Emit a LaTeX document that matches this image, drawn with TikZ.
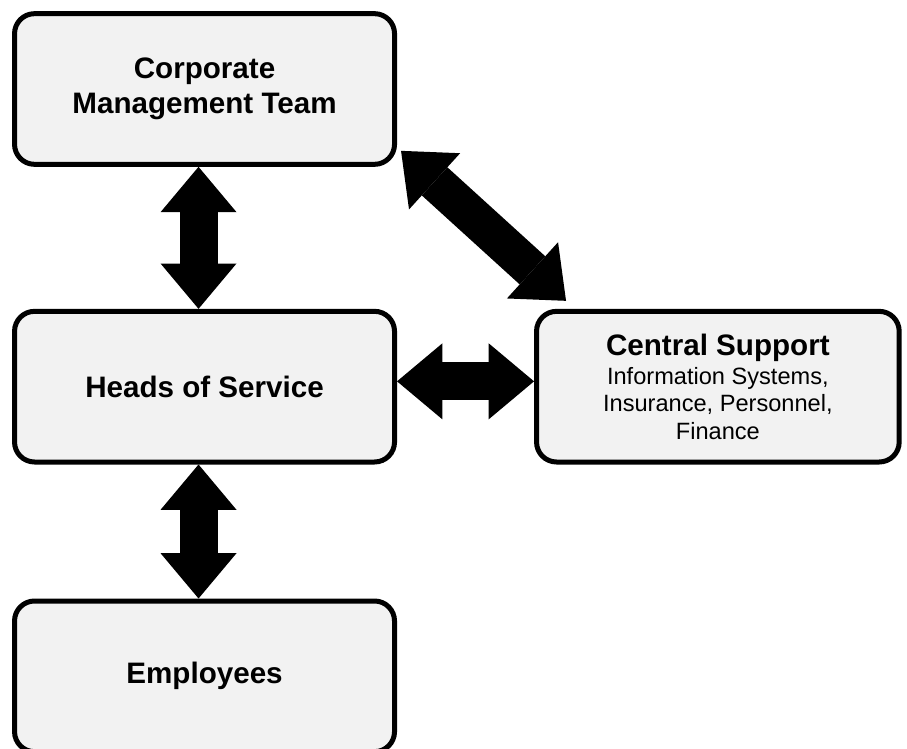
\documentclass[tikz,border=0pt]{standalone}
\usepackage{fontspec}
\setmainfont{Liberation Sans}
\usetikzlibrary{positioning,arrows.meta}
\definecolor{boxgray}{HTML}{F2F2F2}

\begin{document}
\begin{tikzpicture}[
	node distance=106.5pt and 102.75pt,
	unit/.style={draw,line width=3.75pt,rounded corners=15pt,fill=boxgray,minimum width=285pt,minimum height=113pt,align=center,font=\bfseries\fontsize{22.2}{26.5}\selectfont},
	link/.style={line width=28.5pt,{Triangle[length=34pt,width=57pt,line width=0pt]}-{Triangle[length=34pt,width=57pt,line width=0pt]}}
	]
	\useasboundingbox (0,0) rectangle (680.25pt,-561.75pt);
	\node[unit] (cmt) at (153.4pt,-66.75pt) {Corporate\\Management Team};
	\node[unit,below=of cmt] (hos) {Heads of Service};
	\node[unit,below=100.5pt of hos] (emp) {Employees};
	\node[unit,right=of hos,minimum width=272pt,font=\fontsize{17.7}{20.6}\selectfont] (cs)
	{{\bfseries\fontsize{22.2}{26.5}\selectfont Central Support}\\[1pt]
		Information Systems,\\
		Insurance, Personnel,\\
		Finance};
	\draw[link] ([xshift=-4.5pt]cmt.south) -- ([xshift=-4.5pt]hos.north);
	\draw[link] ([xshift=-4.5pt]hos.south) -- ([xshift=-4.5pt]emp.north);
	\draw[link] ([yshift=4pt]hos.east) -- ([yshift=4pt]cs.west);
	\draw[link] ([shift={(3pt,12pt)}]cmt.south east) -- ([shift={(24pt,6pt)}]cs.north west);
\end{tikzpicture}
\end{document}
